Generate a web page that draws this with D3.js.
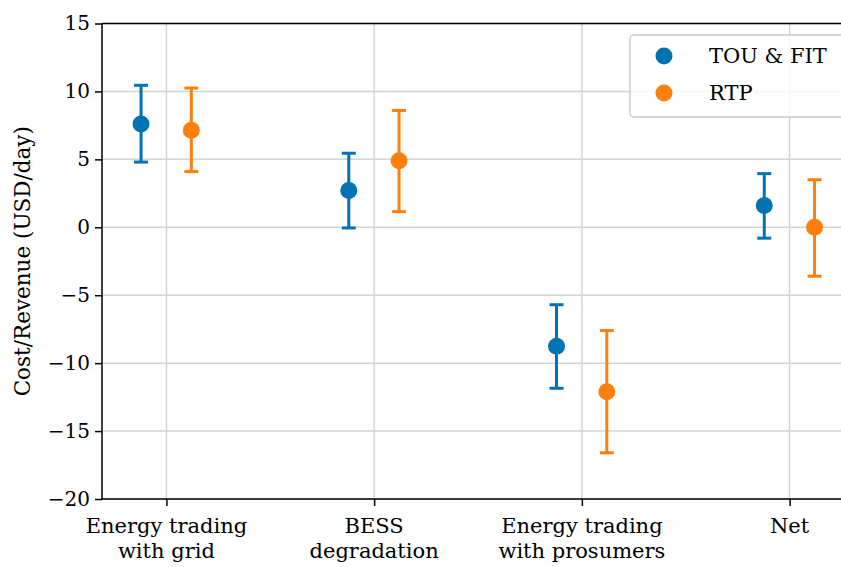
<!DOCTYPE html>
<html><head><meta charset="utf-8">
<script src="https://cdn.jsdelivr.net/npm/d3@7"></script>
<style>body{margin:0;background:#fff}svg{display:block}</style>
</head><body>
<script>
const categories = ["Energy trading\nwith grid", "BESS\ndegradation", "Energy trading\nwith prosumers", "Net"];
const seriesNames = ["TOU & FIT", "RTP"];
const touMean = [7.6, 2.7, -8.75, 1.6];
const touLow  = [4.8, -0.05, -11.85, -0.8];
const touHigh = [10.45, 5.45, -5.7, 3.95];
const rtpMean = [7.15, 4.9, -12.1, 0.0];
const rtpLow  = [4.1, 1.15, -16.6, -3.6];
const rtpHigh = [10.25, 8.6, -7.6, 3.5];
const yTicks = [-20, -15, -10, -5, 0, 5, 10, 15];
const colors = ["#0173b2", "#ff7f0e"];

(function () {
const W = 841, H = 567;
const FONT = "'DejaVu Serif', serif";
const svg = d3.select("body").append("svg").attr("width", W).attr("height", H);
const pL = 102, pT = 23.5, pB = 499, pR = 854;

const x = d3.scaleLinear().domain([-0.31, 3.31]).range([pL, pR]);
const y = d3.scaleLinear().domain([-20, 15]).range([pB, pT]);

const g = svg.append("g");
g.selectAll(".gy").data(yTicks).enter().append("line")
  .attr("x1", pL).attr("x2", pR).attr("y1", d => y(d)).attr("y2", d => y(d))
  .attr("stroke", "#d4d4d4").attr("stroke-width", 1.5);
g.selectAll(".gx").data(categories).enter().append("line")
  .attr("x1", (d, i) => x(i)).attr("x2", (d, i) => x(i)).attr("y1", pT).attr("y2", pB)
  .attr("stroke", "#d4d4d4").attr("stroke-width", 1.5);

const yAxis = d3.axisLeft(y).tickValues(yTicks).tickSize(7).tickPadding(5);
const ya = svg.append("g").attr("transform", `translate(${pL},0)`).call(yAxis);
const xAxis = d3.axisBottom(x).tickValues(d3.range(categories.length)).tickSize(7).tickFormat(() => "");
const xa = svg.append("g").attr("transform", `translate(0,${pB})`).call(xAxis);
[ya, xa].forEach(a => {
  a.select(".domain").remove();
  a.selectAll(".tick line").attr("stroke", "#000").attr("stroke-width", 1.5);
});
ya.selectAll(".tick text").attr("font-family", FONT).attr("font-size", 20).attr("fill", "#000");
svg.append("line").attr("x1", pL).attr("x2", pL).attr("y1", pT).attr("y2", pB).attr("stroke", "#000").attr("stroke-width", 1.5);
svg.append("line").attr("x1", pL).attr("x2", pR).attr("y1", pB).attr("y2", pB).attr("stroke", "#000").attr("stroke-width", 1.5);
svg.append("line").attr("x1", pL).attr("x2", pR).attr("y1", pT).attr("y2", pT).attr("stroke", "#000").attr("stroke-width", 1.5);

categories.forEach((c, i) => {
  const lines = c.split("\n");
  const t = svg.append("text").attr("font-family", FONT).attr("font-size", 21).attr("text-anchor", "middle").attr("fill", "#000");
  lines.forEach((l, j) => t.append("tspan").attr("x", x(i)).attr("y", 533 + j * 25).text(l));
});

svg.append("text").attr("transform", `translate(30,${(pT + pB) / 2}) rotate(-90)`)
  .attr("text-anchor", "middle").attr("font-family", FONT).attr("font-size", 21.5).attr("fill", "#000")
  .text("Cost/Revenue (USD/day)");

const series = [
  {mean: touMean, lo: touLow, hi: touHigh, off: -0.122},
  {mean: rtpMean, lo: rtpLow, hi: rtpHigh, off: 0.12}
];
series.forEach((s, si) => {
  const gg = svg.append("g");
  s.mean.forEach((m, i) => {
    const cx = x(i + s.off);
    gg.append("line").attr("x1", cx).attr("x2", cx).attr("y1", y(s.lo[i])).attr("y2", y(s.hi[i]))
      .attr("stroke", colors[si]).attr("stroke-width", 3);
    [s.lo[i], s.hi[i]].forEach(v => gg.append("line").attr("x1", cx - 7).attr("x2", cx + 7)
      .attr("y1", y(v)).attr("y2", y(v)).attr("stroke", colors[si]).attr("stroke-width", 3));
    gg.append("circle").attr("cx", cx).attr("cy", y(m)).attr("r", 8.5).attr("fill", colors[si]);
  });
});

const lg = svg.append("g");
lg.append("rect").attr("x", 630).attr("y", 35).attr("width", 214).attr("height", 82).attr("rx", 4)
  .attr("fill", "rgba(255,255,255,0.8)").attr("stroke", "#cccccc").attr("stroke-width", 1.5);
seriesNames.forEach((n, i) => {
  const yy = 56 + i * 37;
  lg.append("circle").attr("cx", 664).attr("cy", yy).attr("r", 8.5).attr("fill", colors[i]);
  lg.append("text").attr("x", 709).attr("y", yy + 7).attr("font-family", FONT).attr("font-size", 21).attr("fill", "#000").text(n);
});
})();
</script>
</body></html>
